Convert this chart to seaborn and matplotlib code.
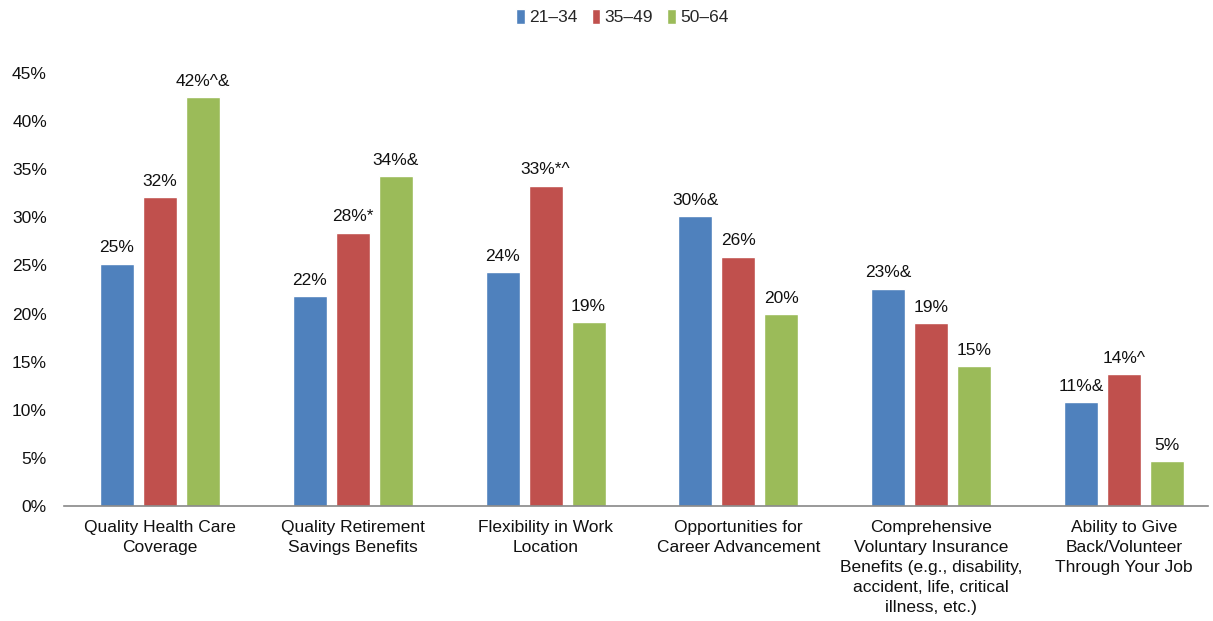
import matplotlib
matplotlib.use("Agg")
import matplotlib.pyplot as plt
import seaborn as sns
import pandas as pd
from matplotlib.ticker import FuncFormatter

categories = [
    "Quality Health Care\nCoverage",
    "Quality Retirement\nSavings Benefits",
    "Flexibility in Work\nLocation",
    "Opportunities for\nCareer Advancement",
    "Comprehensive\nVoluntary Insurance\nBenefits (e.g., disability,\naccident, life, critical\nillness, etc.)",
    "Ability to Give\nBack/Volunteer\nThrough Your Job",
]
series_names = ["21\u201334", "35\u201349", "50\u201364"]
vals_21_34 = [25.2, 21.8, 24.3, 30.1, 22.6, 10.8]
vals_35_49 = [32.1, 28.4, 33.3, 25.9, 19.0, 13.7]
vals_50_64 = [42.5, 34.3, 19.1, 19.9, 14.5, 4.6]
labels_21_34 = ["25%", "22%", "24%", "30%&", "23%&", "11%&"]
labels_35_49 = ["32%", "28%*", "33%*^", "26%", "19%", "14%^"]
labels_50_64 = ["42%^&", "34%&", "19%", "20%", "15%", "5%"]
yticks = [0, 5, 10, 15, 20, 25, 30, 35, 40, 45]
colors = ["#4F81BD", "#C0504D", "#9BBB59"]

sns.set_theme(style="white")
plt.rcParams["font.family"] = ["Liberation Sans", "DejaVu Sans"]

rows = []
for name, vals in zip(series_names, [vals_21_34, vals_35_49, vals_50_64]):
    for c, v in zip(categories, vals):
        rows.append({"category": c, "group": name, "value": v})
df = pd.DataFrame(rows)

W, H = 1213, 621
left_px, right_px = 63.6, 1208
cat_px = 192.8
fig = plt.figure(figsize=(W / 100, H / 100), dpi=100)
ax = fig.add_axes([left_px / W, 1 - 505.7 / H, (right_px - left_px) / W, (505.7 - 73.3) / H])

sns.barplot(data=df, x="category", y="value", hue="group", hue_order=series_names,
            order=categories, palette=colors, width=0.669, gap=0.21,
            saturation=1, ax=ax, legend=True)

fs = 12.5
for cont, labs in zip(ax.containers, [labels_21_34, labels_35_49, labels_50_64]):
    ax.bar_label(cont, labels=labs, padding=6, fontsize=fs, color="#111111")

ax.set_ylim(0, 45)
ax.set_yticks(yticks)
ax.yaxis.set_major_formatter(FuncFormatter(lambda v, p: f"{int(v)}%"))
ax.set_xticks(range(len(categories)), categories, linespacing=1.42)
ax.set_xlim(-0.5, -0.5 + (right_px - left_px) / cat_px)
ax.set_xlabel("")
ax.set_ylabel("")
ax.tick_params(axis="both", length=0, labelsize=fs, colors="#111111")
ax.tick_params(axis="x", pad=10)
ax.tick_params(axis="y", pad=12)
for s in ["top", "right", "left"]:
    ax.spines[s].set_visible(False)
ax.spines["bottom"].set_color("#888888")
ax.spines["bottom"].set_linewidth(1.2)

handles, labels = ax.get_legend_handles_labels()
ax.legend_.remove()
fig.legend(handles, labels, loc="center", bbox_to_anchor=(0.513, 0.972), ncol=3,
           frameon=False, fontsize=fs, handlelength=0.5, handleheight=0.9,
           handletextpad=0.25, columnspacing=0.8)

fig.savefig("out.png", dpi=100)
